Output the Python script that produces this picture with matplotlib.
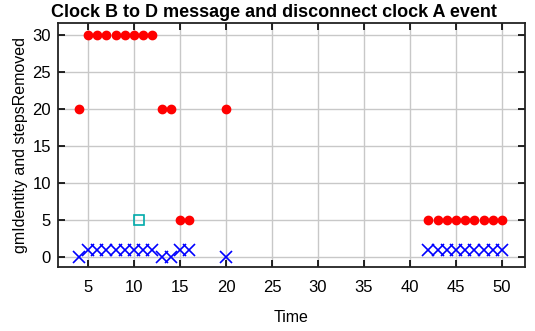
import numpy as np
import matplotlib.pyplot as plt
import matplotlib as mpl

mpl.rcParams['font.family'] = ['Liberation Sans', 'DejaVu Sans']

# stepsRemoved (red dots)
steps_t = [4, 5, 6, 7, 8, 9, 10, 11, 12, 13, 14, 15, 16, 20,
           42, 43, 44, 45, 46, 47, 48, 49, 50]
steps_v = [20, 30, 30, 30, 30, 30, 30, 30, 30, 20, 20, 5, 5, 20,
           5, 5, 5, 5, 5, 5, 5, 5, 5]

# gmIdentity (blue crosses)
gm_t = [4, 5, 6, 7, 8, 9, 10, 11, 12, 13, 14, 15, 16, 20,
        42, 43, 44, 45, 46, 47, 48, 49, 50]
gm_v = [0, 1, 1, 1, 1, 1, 1, 1, 1, 0, 0, 1, 1, 0,
        1, 1, 1, 1, 1, 1, 1, 1, 1]

# event marker (cyan square)
ev_t = [10.5]
ev_v = [5]

fig = plt.figure(figsize=(5.35, 3.31), dpi=100)
ax = fig.add_axes([0.1084, 0.193, 0.873, 0.738])

ax.plot(steps_t, steps_v, 'o', color='#ff0000', markersize=6, linestyle='none')
ax.plot(gm_t, gm_v, 'x', color='#0000ff', markersize=9, markeredgewidth=1.2, linestyle='none')
ax.plot(ev_t, ev_v, 's', color='#00aaaa', markerfacecolor='none', markersize=6.5,
        markeredgewidth=1.2, linestyle='none')

ax.set_xlim(1.75, 52.5)
ax.set_ylim(-1.3, 31.7)
ax.set_xticks(np.arange(5, 51, 5))
ax.set_yticks(np.arange(0, 31, 5))
ax.grid(True, color='#c8c8c8', linewidth=1.0)
ax.set_axisbelow(True)
ax.tick_params(direction='in', top=True, right=True, length=5, width=1.2,
               labelsize=12, colors='black')
ax.tick_params(axis='x', pad=9)
ax.tick_params(axis='y', pad=5)
for s in ax.spines.values():
    s.set_linewidth(1.3)
    s.set_color('#222222')

ax.set_title('Clock B to D message and disconnect clock A event',
             fontsize=13, fontweight='bold', pad=4, x=0.463)
ax.set_xlabel('Time', fontsize=11.5, labelpad=11)
ax.set_ylabel('gmIdentity and stepsRemoved', fontsize=11.5, labelpad=3)

fig.savefig('out.png', dpi=100)
